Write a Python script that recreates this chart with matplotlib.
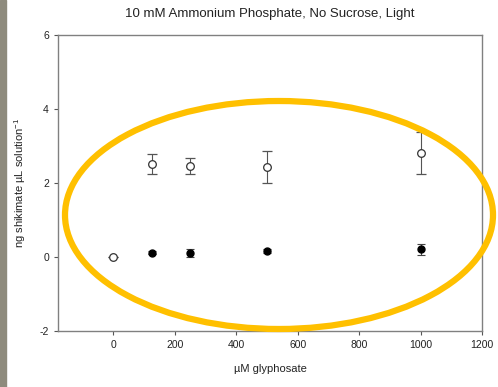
import matplotlib.pyplot as plt
from matplotlib.patches import Ellipse, Rectangle

plt.rcParams['font.family'] = ['Liberation Sans', 'DejaVu Sans']
plt.rcParams['axes.unicode_minus'] = False
plt.rcParams['mathtext.default'] = 'regular'

# open circles (with glyphosate-free control at 0)
x_open = [0, 125, 250, 500, 1000]
y_open = [0.0, 2.51, 2.45, 2.43, 2.81]
e_open = [0.0, 0.27, 0.22, 0.43, 0.58]

# filled circles
x_fill = [125, 250, 500, 1000]
y_fill = [0.11, 0.10, 0.16, 0.21]
e_fill = [0.04, 0.11, 0.05, 0.15]

fig = plt.figure(figsize=(4.98, 3.87), dpi=100)
ax = fig.add_axes([58/498, 1 - 331/387, 424/498, 296/387])

ax.errorbar(x_fill, y_fill, yerr=e_fill, fmt='o', color='black', mfc='black',
            ms=5, capsize=3, elinewidth=0.8, ecolor='#444444', capthick=0.8)
ax.errorbar(x_open, y_open, yerr=e_open, fmt='o', color='#444444', mfc='white',
            mec='#333333', ms=5.5, mew=0.9, capsize=3.5, elinewidth=0.8,
            ecolor='#555555', capthick=0.8)

ax.set_xlim(-180, 1200)
ax.set_ylim(-2, 6)
ax.set_xticks([0, 200, 400, 600, 800, 1000, 1200])
ax.set_yticks([-2, 0, 2, 4, 6])
ax.tick_params(direction='out', length=3, labelsize=7.5, colors='#555555',
               labelcolor='#222222', width=0.8)
for s in ax.spines.values():
    s.set_color('#808080')
    s.set_linewidth(1)

ax.set_title('10 mM Ammonium Phosphate, No Sucrose, Light', fontsize=9.5,
             color='#222222', pad=13)
ax.set_xlabel('\u00b5M glyphosate', fontsize=8, color='#222222', labelpad=10)
ax.set_ylabel('ng shikimate \u00b5L solution$^{-1}$', fontsize=8, color='#222222',
              labelpad=8)

# slide decoration: grey strip at the left edge and the highlight ellipse
fig.patches.append(Rectangle((0, 0), 6/498, 1, transform=fig.transFigure,
                             color='#8e8b7d', zorder=0))
fig.patches.append(Ellipse((279/498, 1 - 215/387), 428/498, 228/387,
                           transform=fig.transFigure, fill=False,
                           edgecolor='#FFC000', lw=4.5, zorder=5))

fig.savefig('out.png', dpi=100)
